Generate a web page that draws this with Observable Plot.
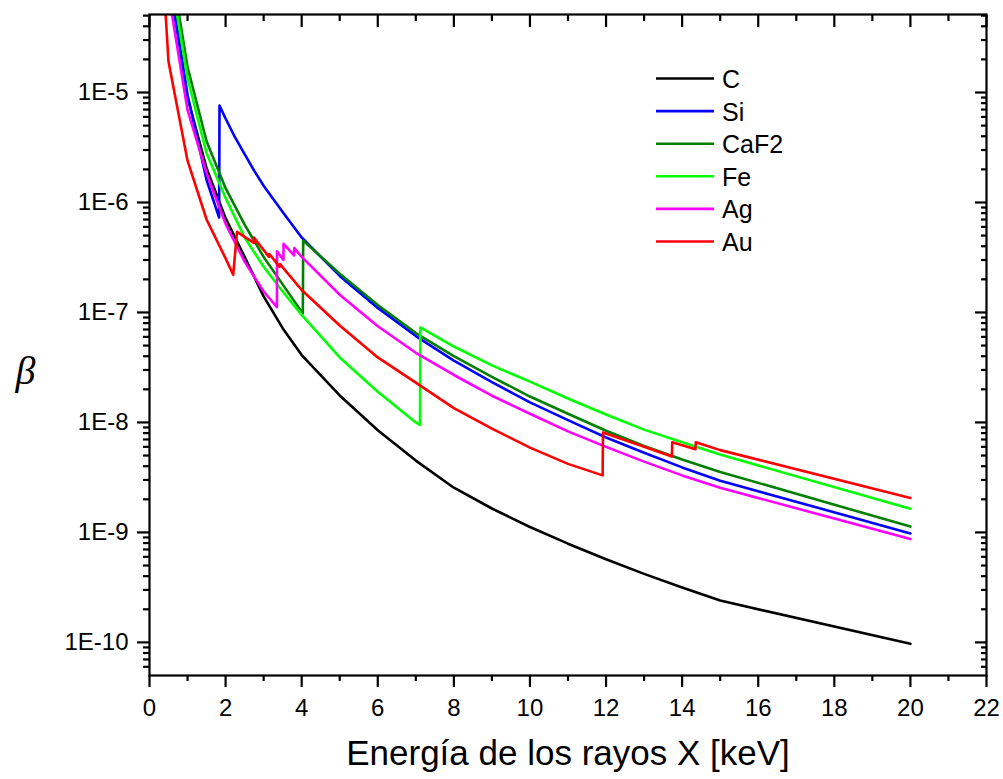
<!DOCTYPE html>
<html><head><meta charset="utf-8">
<script src="https://cdn.jsdelivr.net/npm/d3@7"></script>
<script src="https://cdn.jsdelivr.net/npm/@observablehq/plot@0.6"></script>
<style>
html,body{margin:0;padding:0;background:#fff;}
#wrap{position:relative;width:1003px;height:779px;}
</style></head><body><div id="wrap"></div>
<script>
// ---- series ----
const seriesNames  = ["C", "Si", "CaF2", "Fe", "Ag", "Au"];
const seriesColors = ["#000000", "#0000ff", "#007f00", "#00ff00", "#ff00ff", "#ff0000"];

const energyC = [0.5, 1.0, 1.5, 2.0, 2.5, 3.0, 3.5, 4.0, 5, 6, 7, 8, 9, 10, 11, 12, 13, 14, 15, 20];
const betaC   = [1.3e-4, 9e-6, 2.05e-6, 7.2e-7, 3.2e-7, 1.4e-7, 7.2e-8, 4.1e-8, 1.76e-8, 8.5e-9, 4.5e-9, 2.55e-9, 1.65e-9, 1.12e-9, 7.9e-10, 5.7e-10, 4.2e-10, 3.15e-10, 2.4e-10, 9.7e-11];

const energySi = [0.5, 1.0, 1.5, 1.83, 1.84, 2.0, 2.25, 2.5, 2.75, 3.0, 3.5, 4.0, 5, 6, 7, 8, 9, 10, 11, 12, 13, 14, 15, 20];
const betaSi   = [1.1e-4, 9.5e-6, 1.6e-6, 7.3e-7, 7.6e-6, 5.8e-6, 3.9e-6, 2.75e-6, 1.95e-6, 1.42e-6, 8.2e-7, 4.8e-7, 2.15e-7, 1.1e-7, 6.1e-8, 3.65e-8, 2.33e-8, 1.52e-8, 1.05e-8, 7.3e-9, 5.3e-9, 3.9e-9, 2.95e-9, 9.8e-10];

const energyCaF2 = [0.5, 1.0, 1.5, 2.0, 2.5, 3.0, 3.5, 4.03, 4.04, 5, 6, 7, 8, 9, 10, 11, 12, 13, 14, 15, 20];
const betaCaF2   = [2e-4, 1.7e-5, 3.6e-6, 1.35e-6, 6.3e-7, 3.2e-7, 1.8e-7, 9.8e-8, 4.5e-7, 2.25e-7, 1.17e-7, 6.5e-8, 4.0e-8, 2.6e-8, 1.72e-8, 1.2e-8, 8.4e-9, 6.1e-9, 4.6e-9, 3.55e-9, 1.13e-9];

const energyFe = [0.5, 1.0, 1.5, 2.0, 2.5, 3.0, 3.5, 4.0, 5, 6, 7, 7.11, 7.12, 8, 9, 10, 11, 12, 13, 14, 15, 20];
const betaFe   = [1.5e-4, 1.35e-5, 2.8e-6, 1.1e-6, 4.8e-7, 2.6e-7, 1.55e-7, 9.5e-8, 3.9e-8, 1.9e-8, 1.0e-8, 9.5e-9, 7.3e-8, 4.9e-8, 3.3e-8, 2.35e-8, 1.65e-8, 1.18e-8, 8.6e-9, 6.6e-9, 5.1e-9, 1.64e-9];

const energyAg = [0.5, 1.0, 1.5, 2.0, 2.5, 3.0, 3.35, 3.351, 3.52, 3.524, 3.80, 3.806, 4.0, 5, 6, 7, 8, 9, 10, 11, 12, 13, 14, 15, 20];
const betaAg   = [8e-5, 6.9e-6, 1.85e-6, 6.4e-7, 2.9e-7, 1.55e-7, 1.12e-7, 3.6e-7, 3.0e-7, 4.2e-7, 3.3e-7, 3.85e-7, 3.2e-7, 1.45e-7, 7.5e-8, 4.3e-8, 2.7e-8, 1.75e-8, 1.2e-8, 8.3e-9, 6.0e-9, 4.4e-9, 3.3e-9, 2.55e-9, 8.7e-10];

const energyAu = [0.4, 0.5, 1.0, 1.5, 2.0, 2.2, 2.3, 2.74, 2.745, 3.14, 3.15, 3.42, 3.43, 4.0, 5, 6, 7, 8, 9, 10, 11, 11.91, 11.92, 13, 13.73, 13.74, 14.35, 14.36, 15, 20];
const betaAu   = [7e-5, 1.9e-5, 2.4e-6, 7e-7, 3.1e-7, 2.2e-7, 5.4e-7, 4.3e-7, 4.8e-7, 3.2e-7, 3.4e-7, 2.6e-7, 2.75e-7, 1.6e-7, 7.6e-8, 3.9e-8, 2.3e-8, 1.35e-8, 8.8e-9, 5.9e-9, 4.2e-9, 3.3e-9, 8.1e-9, 6.0e-9, 4.9e-9, 6.6e-9, 5.7e-9, 6.6e-9, 5.6e-9, 2.06e-9];

// ---- ticks ----
const xMajorTicks = [0, 2, 4, 6, 8, 10, 12, 14, 16, 18, 20, 22];
const xMinorTicks = [1, 3, 5, 7, 9, 11, 13, 15, 17, 19, 21];
const yMajorTicks = [1e-10, 1e-9, 1e-8, 1e-7, 1e-6, 1e-5];
const yTickLabels = ["1E-10", "1E-9", "1E-8", "1E-7", "1E-6", "1E-5"];
const yMinorMultipliers = [2, 3, 4, 5, 6, 7, 8, 9];
const yDecades = [-11, -10, -9, -8, -7, -6, -5];

const xLabel = "Energía de los rayos X [keV]";
const yLabel = "β";

const yDomain = [5.0e-11, 5.12e-5];
const yMinorTicks = [];
yDecades.forEach(k => yMinorMultipliers.forEach(m => {
  const v = m * Math.pow(10, k);
  if (v > yDomain[0] && v < yDomain[1]) yMinorTicks.push(v);
}));

const seriesE = [energyC, energySi, energyCaF2, energyFe, energyAg, energyAu];
const seriesB = [betaC, betaSi, betaCaF2, betaFe, betaAg, betaAu];
const rows = [];
seriesNames.forEach((name, i) => seriesE[i].forEach((e, j) => rows.push({series: name, E: e, beta: seriesB[i][j]})));

const plot = Plot.plot({
  width: 1003, height: 779,
  marginLeft: 149, marginRight: 17, marginTop: 14, marginBottom: 104,
  style: {fontFamily: "'Liberation Sans', Arial, sans-serif", fontSize: "24px", color: "#000", background: "#fff"},
  x: {domain: [0, 22]},
  y: {type: "log", domain: yDomain},
  marks: [
    ...seriesNames.map((name, i) => Plot.line(rows.filter(r => r.series === name), {x: "E", y: "beta", stroke: seriesColors[i], strokeWidth: 2.6, clip: true})),
    Plot.frame({strokeWidth: 2.2}),
    Plot.axisX({anchor: "bottom", ticks: xMajorTicks, tickSize: 12, tickPadding: 11, strokeWidth: 2.2, label: null, tickFormat: d => String(d), fontSize: 24}),
    Plot.axisX({anchor: "bottom", ticks: xMinorTicks, tickSize: 6, strokeWidth: 2.2, label: null, fill: "none"}),
    Plot.axisX({anchor: "top", ticks: xMajorTicks, tickSize: 12, dy: 12, strokeWidth: 2.2, label: null, fill: "none"}),
    Plot.axisX({anchor: "top", ticks: xMinorTicks, tickSize: 6, dy: 6, strokeWidth: 2.2, label: null, fill: "none"}),
    Plot.axisY({anchor: "left", ticks: yMajorTicks, tickSize: 12, tickPadding: 9, strokeWidth: 2.2, label: null, tickFormat: d => yTickLabels[yMajorTicks.indexOf(d)], fontSize: 24}),
    Plot.axisY({anchor: "left", ticks: yMinorTicks, tickSize: 6, strokeWidth: 2.2, label: null, fill: "none"}),
    Plot.axisY({anchor: "right", ticks: yMajorTicks, tickSize: 12, dx: -12, strokeWidth: 2.2, label: null, fill: "none"}),
    Plot.axisY({anchor: "right", ticks: yMinorTicks, tickSize: 6, dx: -6, strokeWidth: 2.2, label: null, fill: "none"}),
    Plot.text([xLabel], {text: d => d, frameAnchor: "bottom", dy: 78, fontSize: 35, lineAnchor: "middle"}),
    Plot.text([yLabel], {text: d => d, frameAnchor: "left", dx: -134, dy: 26, fontSize: 40, fontStyle: "italic", fontFamily: "'Liberation Serif', 'DejaVu Serif', serif", lineAnchor: "middle"})
  ]
});
document.getElementById("wrap").appendChild(plot);

// ---- legend (inside the plot area, upper right) ----
const legend = d3.select("#wrap").append("svg")
  .attr("width", 1003).attr("height", 779)
  .style("position", "absolute").style("left", "0px").style("top", "0px")
  .style("pointer-events", "none");
const legX0 = 656, legX1 = 714, legTextX = 722, legY0 = 78.5, legDy = 32.6;
seriesNames.forEach((name, i) => {
  const y = legY0 + i * legDy;
  legend.append("line").attr("x1", legX0).attr("x2", legX1).attr("y1", y).attr("y2", y)
    .attr("stroke", seriesColors[i]).attr("stroke-width", 2.6);
  legend.append("text").attr("x", legTextX).attr("y", y + 9.5)
    .attr("font-family", "'Liberation Sans', Arial, sans-serif").attr("font-size", 25)
    .attr("fill", "#000").text(name);
});
</script></body></html>
